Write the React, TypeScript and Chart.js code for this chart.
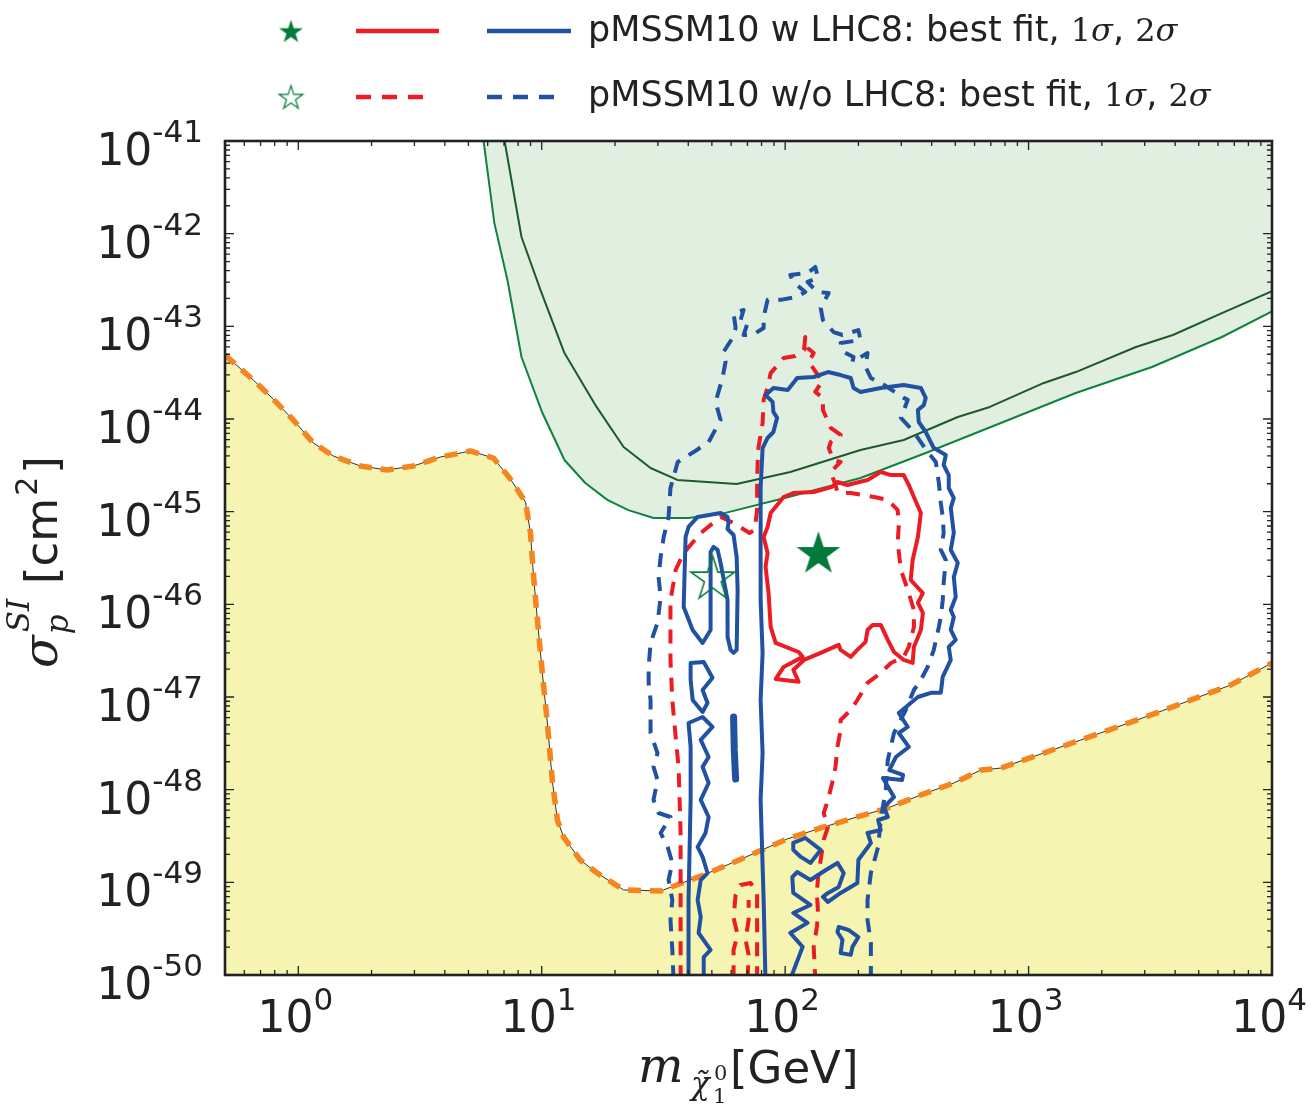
import React, { useEffect, useRef } from 'react';
import { Chart, registerables } from 'chart.js';

Chart.register(...registerables);

type P = [number, number]; // [neutralino mass in GeV, sigma_SI in cm^2]

// ---------- axis ticks ----------
const xTickPowers = [0, 1, 2, 3, 4];
const yTickPowers = [-50, -49, -48, -47, -46, -45, -44, -43, -42, -41];

// ---------- legend ----------
const legendLabels = ['pMSSM10 w LHC8: best fit, ', 'pMSSM10 w/o LHC8: best fit, '];

// ---------- experimental limit band (green) ----------
const greenBandLowerEdge: P[] = [
  [5.69, 1.32e-41], [6.39, 1.3e-42], [7.23, 3.16e-43], [8.26, 4.67e-44], [10.07, 1.16e-44],
  [12.4, 3.61e-45], [15.1, 2.04e-45], [18.6, 1.34e-45], [22.7, 1.04e-45], [28.8, 8.55e-46],
  [40.1, 8.55e-46], [56.9, 9.7e-46], [100.5, 1.41e-45], [204, 2.31e-45], [378, 4.3e-45],
  [769, 9.06e-45], [1563, 1.91e-44], [3213, 3.64e-44], [6227, 7.67e-44], [10000, 1.45e-43],
];
const greenBandUpperLine: P[] = [
  [6.91, 1.32e-41], [8.26, 9.2e-43], [9.88, 2.47e-43], [12.4, 5.15e-44], [16.8, 1.35e-44],
  [21.7, 4.99e-45], [28.0, 2.96e-45], [36.1, 2.2e-45], [63.2, 1.99e-45], [105, 2.68e-45],
  [204, 4.63e-45], [307, 5.94e-45], [512, 1.05e-44], [693, 1.35e-44], [1156, 2.45e-44],
  [1563, 3.21e-44], [2761, 5.98e-44], [3917, 8.07e-44], [6227, 1.39e-43], [10000, 2.4e-43],
];

// ---------- neutrino floor (yellow) ----------
const neutrinoFloor: P[] = [
  [0.5, 4.9e-44], [0.653, 2.64e-44], [0.789, 1.64e-44], [0.954, 9.75e-45], [1.153, 5.51e-45],
  [1.393, 3.99e-45], [1.8, 3.11e-45], [2.32, 2.82e-45], [2.97, 3.11e-45], [3.84, 3.89e-45],
  [5.1, 4.52e-45], [6.33, 3.79e-45], [7.44, 2.25e-45], [8.58, 1.27e-45], [8.99, 5.89e-46],
  [9.25, 2.07e-46], [9.61, 6.61e-47], [10.07, 1.77e-47], [10.56, 5.11e-48], [11.07, 1.21e-48],
  [11.6, 4.71e-49], [12.3, 3.08e-49], [14.4, 1.74e-49], [16.9, 1.26e-49], [21.7, 8.28e-50],
  [30.8, 8.07e-50], [46.2, 1.2e-49], [67.5, 1.83e-49], [102, 2.94e-49], [140, 3.86e-49],
  [191, 4.95e-49], [264, 6.34e-49], [361, 8.77e-49], [493, 1.18e-48], [637, 1.63e-48],
  [769, 1.71e-48], [1640, 3.44e-48], [3184, 6.4e-48], [6776, 1.35e-47], [10000, 2.33e-47],
];

// ---------- pMSSM10 w LHC8 : 2 sigma (blue solid) ----------
const blue2sMain: P[] = [
  [83, 9e-51], [81.6, 6.45e-50], [79.3, 7.75e-49], [80.8, 2.48e-48], [79.3, 9.28e-48], [80.8, 2.99e-47],
  [79.3, 1.11e-46], [79.3, 9.2e-46], [79.3, 1.8e-45], [80.8, 4.86e-45], [84.7, 6.24e-45], [89.5, 7.24e-45],
  [92.7, 1.03e-44], [89.5, 1.19e-44], [88.8, 1.53e-44], [83.1, 1.81e-44], [89.5, 2.16e-44], [102.5, 2.06e-44],
  [108, 2.44e-44], [112, 2.77e-44], [131, 2.84e-44], [150, 3.21e-44], [169, 2.98e-44], [186, 2.77e-44],
  [191, 2.16e-44], [204, 1.96e-44], [247, 2.16e-44], [307, 2.33e-44], [361, 2.16e-44], [378, 1.69e-44],
  [371, 1.41e-44], [351, 1.25e-44], [354, 9.28e-45], [378, 7.24e-45], [408, 4.86e-45], [457, 4.09e-45],
  [448, 3.19e-45], [470, 2.48e-45], [470, 1.8e-45], [493, 1.4e-45], [479, 1.1e-45], [493, 5.89e-46],
  [479, 3.86e-46], [512, 2.8e-46], [493, 1.97e-46], [502, 1.2e-46], [479, 8.7e-47], [493, 7.31e-47],
  [479, 5.29e-47], [502, 4.13e-47], [470, 3.47e-47], [479, 2.51e-47], [444, 1.65e-47], [436, 1.11e-47],
  [397, 1.11e-47], [351, 1.0e-47], [328, 8.62e-48], [293, 6.72e-48], [319, 4.75e-48], [293, 4.09e-48],
  [322, 2.89e-48], [285, 2.25e-48], [268, 1.63e-48], [305, 1.44e-48], [302, 1.27e-48], [252, 1.34e-48],
  [280, 8.34e-49], [255, 6.5e-49], [264, 5.07e-49], [241, 4.71e-49], [247, 3.67e-49], [218, 3.41e-49],
  [225, 2.66e-49], [200, 1.75e-49], [198, 9.85e-50], [186, 8.92e-50], [169, 7.69e-50], [150, 6.14e-50],
  [143, 6.96e-50], [150, 7.69e-50], [166, 8.92e-50], [174, 1.26e-49], [164, 1.62e-49], [147, 1.36e-49],
  [127, 1.06e-49], [112, 1.29e-49], [107, 1.14e-49], [108, 7.69e-50], [127, 5.7e-50], [108, 4.67e-50],
  [123.6, 3.65e-50], [105, 2.84e-50], [118, 2.01e-50], [105, 9e-51],
];
const blue2sArm: P[] = [
  [45.8, 3.83e-47], [41.7, 5.29e-47], [38.3, 9.37e-47], [39.0, 5.33e-46], [40.1, 6.84e-46], [43.7, 8.77e-46],
  [54.3, 9.68e-46], [58.0, 8.77e-46], [58.5, 7.55e-46], [58.0, 6.5e-46], [61.4, 5.6e-46], [63.2, 3.25e-46],
  [63.8, 1.43e-46], [63.2, 3.22e-47], [61.4, 2.99e-47], [59.7, 3.22e-47], [58.0, 4.45e-47], [58.0, 1.11e-46],
  [54.3, 2.8e-46], [52.8, 3.86e-46], [50.8, 4.16e-46], [49.4, 3.67e-46], [49.4, 1.11e-46], [49.4, 5.29e-47],
  [45.8, 3.83e-47],
];
const blue2sIslandUpper: P[] = [
  [40.9, 2.33e-47], [46.3, 2.39e-47], [50.3, 1.61e-47], [45.8, 1.19e-47], [48.0, 8.62e-48],
  [45.8, 6.89e-48], [41.7, 9.28e-48], [40.9, 1.53e-47], [40.9, 2.33e-47],
];
const blue2sLeftU: P[] = [
  [40.1, 9e-51], [40.1, 6.45e-50], [40.9, 7.75e-49], [40.9, 1.94e-48], [40.9, 2.89e-48], [40.1, 5.24e-48],
  [45.8, 6.08e-48], [50.3, 4.75e-48], [45.0, 3.44e-48], [48.5, 2.25e-48], [45.8, 1.76e-48], [48.5, 1.18e-48],
  [45.0, 7.75e-49], [48.5, 5.07e-49], [47.1, 3.41e-49], [43.7, 2.41e-49], [45.8, 1.88e-49], [48.0, 1.26e-49],
  [45.0, 1.06e-49], [43.7, 6.45e-50], [45.0, 4.23e-50], [44.1, 2.84e-50], [49.4, 1.87e-50], [46.3, 1.56e-50],
  [46.3, 9e-51],
];
const blue2sBlob: P[] = [[61.4, 6.1e-48], [61.8, 2.7e-48], [62.6, 1.3e-48]];
const blue2sDiamond: P[] = [
  [108, 2.66e-49], [121, 3.01e-49], [140, 2.24e-49], [127, 1.62e-49], [116, 1.88e-49], [108, 2.24e-49], [108, 2.66e-49],
];
const blue2sIslandLower: P[] = [
  [166, 3.3e-50], [182, 3.06e-50], [200, 2.57e-50], [189, 2.01e-50], [186, 1.65e-50],
  [169, 1.73e-50], [172, 2.39e-50], [164, 2.91e-50], [166, 3.3e-50],
];

// ---------- pMSSM10 w LHC8 : 1 sigma (red solid) ----------
const red1sLoop: P[] = [
  [84.7, 6.84e-46], [87.2, 9.68e-46], [98.6, 1.44e-45], [108, 1.59e-45], [131, 1.63e-45], [156, 1.85e-45],
  [164, 2.09e-45], [180, 1.94e-45], [218, 2.2e-45], [247, 2.68e-45], [272, 2.48e-45], [307, 2.48e-45],
  [322, 1.94e-45], [338, 1.44e-45], [361, 9.68e-46], [351, 5.33e-46], [334, 3.01e-46], [328, 1.83e-46],
  [368, 1.32e-46], [351, 1.04e-46], [368, 8.08e-47], [361, 5.29e-47], [338, 3.47e-47], [334, 2.33e-47],
  [307, 2.51e-47], [280, 3.06e-47], [264, 4.13e-47], [247, 5.99e-47], [229, 5.99e-47], [218, 5.29e-47],
  [214, 3.93e-47], [198, 3.22e-47], [186, 2.71e-47], [169, 3.22e-47], [166, 3.65e-47], [140, 2.99e-47],
  [119.5, 2.51e-47], [108, 1.96e-47], [113.6, 1.46e-47], [91.4, 1.56e-47], [98.6, 2.11e-47], [118, 2.71e-47],
  [113.6, 3.06e-47], [91.4, 3.83e-47], [88.8, 4.91e-47], [87.2, 5.7e-47], [85.5, 1.32e-46], [83.1, 2.54e-46],
  [84.7, 3.58e-46], [81.6, 5.33e-46], [84.7, 6.84e-46],
];

// ---------- pMSSM10 w/o LHC8 : 2 sigma (blue dashed) ----------
const blueDashed2s: P[] = [
  [34.8, 9e-51], [34.4, 1.87e-50], [33.8, 3.93e-50], [34.4, 6.45e-50], [33.2, 1.06e-49], [34.4, 1.62e-49],
  [32.9, 2.41e-49], [30.8, 3.41e-49], [33.8, 5.07e-49], [30.2, 5.6e-49], [28.8, 7.75e-49], [29.9, 1.27e-48],
  [28.8, 1.76e-48], [29.9, 2.48e-48], [28.0, 4.09e-48], [28.0, 9.28e-48], [27.5, 1.42e-47], [27.5, 2.11e-47],
  [28.0, 3.83e-47], [29.9, 6.3e-47], [30.8, 1.2e-46], [30.2, 1.97e-46], [30.8, 3.25e-46], [31.7, 5.33e-46],
  [33.2, 8.77e-46], [33.8, 1.8e-45], [36.2, 3.44e-45], [42.1, 4.4e-45], [48.5, 5.65e-45], [54.3, 9.75e-45],
  [51.8, 1.53e-44], [55.3, 2.77e-44], [56.9, 4.12e-44], [55.8, 5.28e-44], [60.8, 7.48e-44], [62.6, 9.58e-44],
  [61.4, 1.39e-43], [67.5, 1.5e-43], [65.6, 1.17e-43], [70.1, 1.09e-43], [67.5, 8.06e-44], [73.5, 8.06e-44],
  [81.6, 9.58e-44], [81.6, 1.26e-43], [84.7, 1.93e-43], [95.8, 1.93e-43], [112, 2.08e-43], [121, 2.35e-43],
  [108, 3.01e-43], [105, 3.58e-43], [123.6, 3.76e-43], [133, 4.37e-43], [136.5, 3.33e-43], [123.6, 3.01e-43],
  [135, 2.35e-43], [151, 2.29e-43], [140, 1.58e-43], [143, 1.17e-43], [158, 8.68e-44], [172, 8.06e-44],
  [200, 9.12e-44], [204, 7.11e-44], [169, 6.6e-44], [174, 5.28e-44], [191, 4.66e-44], [189, 4.12e-44],
  [218, 5.15e-44], [214, 3.64e-44], [225, 2.77e-44], [255, 2.33e-44], [307, 1.69e-44], [319, 1.61e-44],
  [299, 1.03e-44], [338, 7.24e-45], [385, 4.4e-45], [416, 3.44e-45], [428, 2.04e-45], [436, 1.24e-45],
  [444, 8.77e-46], [448, 5.89e-46], [436, 3.86e-46], [457, 3.01e-46], [448, 1.71e-46], [444, 1.11e-46],
  [436, 7.31e-47], [428, 5.7e-47], [408, 3.22e-47], [385, 2.11e-47], [361, 1.53e-47], [338, 1.19e-47],
  [313, 7.24e-48], [280, 4.09e-48], [264, 2.09e-48], [259, 9.93e-49], [247, 4.71e-49], [241, 2.41e-49],
  [225, 1.26e-49], [218, 6.45e-50], [218, 3.93e-50], [225, 2.22e-50], [225, 9e-51],
];

// ---------- pMSSM10 w/o LHC8 : 1 sigma (red dashed) ----------
const redDashed1s: P[] = [
  [37.2, 9e-51], [37.2, 6.45e-50], [37.2, 3.41e-49], [36.5, 1.76e-48], [35.5, 3.7e-48], [34.4, 9.28e-48],
  [33.8, 2.51e-47], [33.8, 5.29e-47], [33.8, 1.11e-46], [34.8, 1.71e-46], [35.5, 2.35e-46], [38.3, 3.58e-46],
  [45.0, 5.89e-46], [54.3, 8.77e-46], [61.4, 7.55e-46], [71.4, 5.89e-46], [74.9, 6.35e-46], [76.7, 1.04e-45],
  [76.7, 2.04e-45], [77.4, 4.63e-45], [80.8, 9.05e-45], [81.6, 1.61e-44], [84.7, 2.21e-44], [87.2, 3.13e-44],
  [98.6, 4.55e-44], [110, 4.78e-44], [119.5, 5.55e-44], [121, 7.67e-44], [123.6, 5.83e-44], [131, 5.15e-44],
  [125, 4.12e-44], [136.5, 2.98e-44], [143, 2.63e-44], [133, 1.96e-44], [143, 1.69e-44], [143, 1.25e-44],
  [154, 8.0e-45], [169, 6.72e-45], [154, 5.65e-45], [151, 4.86e-45], [158, 3.61e-45], [169, 3.44e-45],
  [154, 2.68e-45], [161, 1.94e-45], [164, 1.63e-45], [186, 1.59e-45], [232, 1.44e-45], [264, 1.34e-45],
  [290, 1.04e-45], [293, 7.18e-46], [290, 4.59e-46], [299, 2.35e-46], [319, 1.43e-46], [338, 8.7e-47],
  [338, 5.7e-47], [322, 3.47e-47], [307, 2.71e-47], [272, 2.33e-47], [247, 1.82e-47], [218, 1.42e-47],
  [198, 9.28e-48], [186, 7.24e-48], [169, 5.65e-48], [169, 4.4e-48], [164, 2.89e-48], [161, 1.76e-48],
  [156, 1.18e-48], [150, 7.75e-49], [144, 5.6e-49], [150, 3.96e-49], [144, 2.87e-49], [140, 1.75e-49],
  [136.5, 1.14e-49], [135, 7.69e-50], [136.5, 4.67e-50], [135, 3.3e-50], [131, 2.01e-50], [133, 9e-51],
];
const redDashedLowA: P[] = [
  [61.4, 9e-51], [61.4, 1.87e-50], [63.8, 2.71e-50], [61.4, 4.13e-50], [62.6, 7.31e-50],
  [65.6, 9.37e-50], [72.1, 9.85e-50], [76.7, 7.69e-50], [76.7, 9e-51],
];
const redDashedLowB: P[] = [[70.1, 9e-51], [70.8, 1.65e-50], [68.8, 2.39e-50], [70.8, 3.93e-50], [70.8, 6.45e-50]];

// ---------- best-fit points ----------
const bestFitWithLHC8: P[] = [[137, 3.67e-46]];
const bestFitWithoutLHC8: P[] = [[50.4, 1.97e-46]];

// ---------- styles ----------
const BLUE = '#2151a2';
const RED = '#ec1c24';
const STAR_GREEN = '#037a3a';
const GREEN_FILL = '#e0efdf';
const GREEN_LINE = '#11813e';
const GREEN_DARK = '#1c5a2c';
const YELLOW = '#f6f4b1';
const ORANGE = '#f6841f';
const INK = '#222222';
const SANS = '"DejaVu Sans", sans-serif';
const SERIF = '"DejaVu Serif", serif';
const DASH = [14, 10];

function makeStar(r: number, filled: boolean, color: string, lw: number): HTMLCanvasElement {
  const pad = Math.ceil(lw) + 2;
  const size = Math.ceil(2 * r + 2 * pad);
  const c = document.createElement('canvas');
  c.width = size;
  c.height = size;
  const g = c.getContext('2d')!;
  const cx = size / 2;
  const cy = size / 2 + r * 0.095;
  g.beginPath();
  for (let i = 0; i < 10; i++) {
    const rad = i % 2 === 0 ? r : r * 0.382;
    const ang = -Math.PI / 2 + (i * Math.PI) / 5;
    const px = cx + rad * Math.cos(ang);
    const py = cy + rad * Math.sin(ang);
    if (i === 0) g.moveTo(px, py);
    else g.lineTo(px, py);
  }
  g.closePath();
  if (filled) {
    g.fillStyle = color;
    g.fill();
  } else {
    g.strokeStyle = color;
    g.lineWidth = lw;
    g.stroke();
  }
  return c;
}

const toXY = (arr: P[]) => arr.map(([x, y]) => ({ x, y }));

function drawPower(ctx: CanvasRenderingContext2D, base: string, exp: string, x: number, baseY: number,
  align: 'right' | 'center', baseFont: string, expFont: string, rise: number) {
  ctx.font = baseFont;
  const wb = ctx.measureText(base).width;
  ctx.font = expFont;
  const we = ctx.measureText(exp).width;
  const total = wb + we;
  const x0 = align === 'right' ? x - total : x - total / 2;
  ctx.textAlign = 'left';
  ctx.textBaseline = 'alphabetic';
  ctx.font = baseFont;
  ctx.fillText(base, x0, baseY);
  ctx.font = expFont;
  ctx.fillText(exp, x0 + wb, baseY - rise);
}

export default function App() {
  const ref = useRef<HTMLCanvasElement>(null);

  useEffect(() => {
    const canvas = ref.current;
    if (!canvas) return;
    const starFilled = makeStar(23, true, STAR_GREEN, 0);
    const starOpen = makeStar(23, false, STAR_GREEN, 1.6);
    const legStarFilled = makeStar(12.5, true, STAR_GREEN, 0);
    const legStarOpen = makeStar(12.5, false, STAR_GREEN, 1.2);

    const line = (data: P[], color: string, width: number, dashed: boolean, order: number, extra: any = {}) => ({
      data: toXY(data),
      borderColor: color,
      borderWidth: width,
      borderDash: dashed ? DASH : [],
      borderJoinStyle: 'round',
      borderCapStyle: dashed ? 'butt' : 'round',
      pointRadius: 0,
      pointHoverRadius: 0,
      tension: 0,
      fill: false,
      clip: 0,
      order,
      ...extra,
    });

    const deco = {
      id: 'deco',
      afterDraw(chart: any) {
        const ctx: CanvasRenderingContext2D = chart.ctx;
        const a = chart.chartArea;
        const xs = chart.scales.x;
        const ys = chart.scales.y;
        ctx.save();
        // minor / major ticks, pointing inwards on all four sides
        ctx.strokeStyle = INK;
        ctx.lineWidth = 1.3;
        ctx.beginPath();
        for (let e = -1; e <= 4; e++) {
          for (let k = 1; k <= 9; k++) {
            const v = k * Math.pow(10, e);
            if (v < 0.5 || v > 1e4) continue;
            const px = xs.getPixelForValue(v);
            const len = k === 1 ? 9 : 5;
            ctx.moveTo(px, a.bottom);
            ctx.lineTo(px, a.bottom - len);
            ctx.moveTo(px, a.top);
            ctx.lineTo(px, a.top + len);
          }
        }
        for (let e = -51; e <= -41; e++) {
          for (let k = 1; k <= 9; k++) {
            const v = k * Math.pow(10, e);
            if (v < 1e-50 * 0.999 || v > 1e-41 * 1.001) continue;
            const py = ys.getPixelForValue(v);
            const len = k === 1 ? 9 : 5;
            ctx.moveTo(a.left, py);
            ctx.lineTo(a.left + len, py);
            ctx.moveTo(a.right, py);
            ctx.lineTo(a.right - len, py);
          }
        }
        ctx.stroke();
        // frame
        ctx.lineWidth = 2.6;
        ctx.strokeRect(a.left, a.top, a.right - a.left, a.bottom - a.top);

        // tick labels
        ctx.fillStyle = INK;
        for (const p of yTickPowers) {
          const ty = ys.getPixelForValue(Math.pow(10, p));
          drawPower(ctx, '10', String(p), 203, ty + 24, 'right', `44px ${SANS}`, `31px ${SANS}`, 23);
        }
        for (const p of xTickPowers) {
          const tx = xs.getPixelForValue(Math.pow(10, p));
          drawPower(ctx, '10', String(p), tx - 3, 1032, 'center', `44px ${SANS}`, `31px ${SANS}`, 22);
        }

        // x axis title: m_{chi~_1^0} [GeV]
        ctx.textAlign = 'left';
        ctx.textBaseline = 'alphabetic';
        ctx.font = `italic 48px ${SERIF}`;
        ctx.fillText('m', 638, 1082);
        ctx.font = `italic 31px ${SERIF}`;
        ctx.fillText('\u03c7\u0303', 691, 1094);
        ctx.font = `21px ${SERIF}`;
        ctx.fillText('0', 714, 1080);
        ctx.fillText('1', 713, 1103);
        ctx.font = `45px ${SANS}`;
        ctx.fillText('[GeV]', 730, 1083);

        // y axis title: sigma_p^{SI} [cm^2]
        ctx.save();
        ctx.translate(57, 668);
        ctx.rotate(-Math.PI / 2);
        ctx.font = `italic 48px ${SERIF}`;
        ctx.fillText('\u03c3', 0, 0);
        const ws = ctx.measureText('\u03c3').width;
        ctx.font = `italic 31px ${SERIF}`;
        ctx.fillText('p', ws + 1, 11);
        ctx.fillText('SI', ws + 3, -28);
        ctx.font = `45px ${SANS}`;
        ctx.fillText('[cm', 84, 0);
        const wcm = ctx.measureText('[cm').width;
        ctx.font = `30px ${SANS}`;
        ctx.fillText('2', 84 + wcm + 2, -20);
        const w2 = ctx.measureText('2').width;
        ctx.font = `45px ${SANS}`;
        ctx.fillText(']', 84 + wcm + w2 + 5, 0);
        ctx.restore();

        // legend
        const rows = [
          { cy: 31, base: 41, star: legStarFilled, dashed: false },
          { cy: 97, base: 106, star: legStarOpen, dashed: true },
        ];
        rows.forEach((r, i) => {
          ctx.drawImage(r.star, 291 - r.star.width / 2, r.cy - r.star.height / 2);
          ctx.lineWidth = 4.5;
          ctx.lineCap = 'butt';
          ctx.setLineDash(r.dashed ? [15, 11] : []);
          ctx.strokeStyle = RED;
          ctx.beginPath();
          ctx.moveTo(356, r.cy);
          ctx.lineTo(r.dashed ? 430 : 439, r.cy);
          ctx.stroke();
          ctx.strokeStyle = BLUE;
          ctx.beginPath();
          ctx.moveTo(487, r.cy);
          ctx.lineTo(r.dashed ? 560 : 571, r.cy);
          ctx.stroke();
          ctx.setLineDash([]);
          ctx.fillStyle = INK;
          let x = 588;
          const put = (t: string, font: string, dy = 0) => {
            ctx.font = font;
            ctx.fillText(t, x, r.base + dy);
            x += ctx.measureText(t).width;
          };
          put(legendLabels[i], `35px ${SANS}`);
          put('1', `32px ${SERIF}`);
          put('\u03c3', `italic 32px ${SERIF}`);
          put(', ', `35px ${SANS}`);
          put('2', `32px ${SERIF}`);
          put('\u03c3', `italic 32px ${SERIF}`);
        });
        ctx.restore();
      },
    };

    const chart = new Chart(canvas, {
      type: 'line',
      data: {
        datasets: [
          // best-fit stars (top)
          { data: toXY(bestFitWithLHC8), showLine: false, pointStyle: starFilled, pointRadius: 20, order: 0, clip: 0 } as any,
          { data: toXY(bestFitWithoutLHC8), showLine: false, pointStyle: starOpen, pointRadius: 20, order: 0, clip: 0 } as any,
          // w LHC8 contours
          line(red1sLoop, RED, 4, false, 1),
          line(blue2sMain, BLUE, 4, false, 1),
          line(blue2sArm, BLUE, 4, false, 1),
          line(blue2sIslandUpper, BLUE, 4, false, 1),
          line(blue2sLeftU, BLUE, 4, false, 1),
          line(blue2sBlob, BLUE, 7, false, 1),
          line(blue2sDiamond, BLUE, 4, false, 1),
          line(blue2sIslandLower, BLUE, 4, false, 1),
          // w/o LHC8 contours
          line(redDashed1s, RED, 4, true, 2),
          line(redDashedLowA, RED, 4, true, 2),
          line(redDashedLowB, RED, 4, true, 2),
          line(blueDashed2s, BLUE, 4, true, 2),
          // neutrino floor lines
          line(neutrinoFloor, ORANGE, 5.5, false, 3, { borderDash: [13, 9], borderCapStyle: 'butt' }),
          line(neutrinoFloor, '#333333', 1, false, 4, { fill: 'start', backgroundColor: YELLOW }),
          // green limit band
          line(greenBandUpperLine, GREEN_DARK, 2, false, 5),
          line(greenBandLowerEdge, GREEN_LINE, 2, false, 6, { fill: 'end', backgroundColor: GREEN_FILL }),
        ],
      },
      options: {
        responsive: false,
        animation: false,
        events: [],
        layout: { padding: { top: 141, right: 40, left: 0, bottom: 0 } },
        plugins: { legend: { display: false }, tooltip: { enabled: false }, filler: { propagate: false } },
        scales: {
          x: {
            type: 'logarithmic',
            min: 0.5,
            max: 1e4,
            ticks: { display: false },
            grid: { display: false },
            border: { display: false },
            afterFit: (s: any) => { s.height = 130; },
          },
          y: {
            type: 'logarithmic',
            min: 1e-50,
            max: 1e-41,
            ticks: { display: false },
            grid: { display: false },
            border: { display: false },
            afterFit: (s: any) => { s.width = 225; },
          },
        },
      } as any,
      plugins: [deco],
    });
    return () => chart.destroy();
  }, []);

  return (
    <div style={{ position: 'fixed', left: 0, top: 0, width: 1312, height: 1105, background: '#ffffff' }}>
      <canvas ref={ref} width={1312} height={1105} style={{ display: 'block', width: 1312, height: 1105 }} />
    </div>
  );
}
